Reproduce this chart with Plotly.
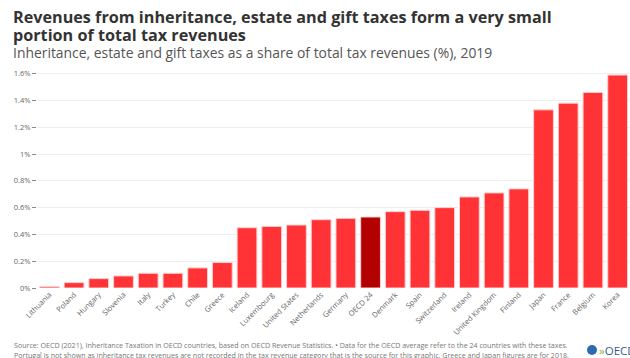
import plotly.graph_objects as go

countries = ["Lithuania", "Poland", "Hungary", "Slovenia", "Italy", "Turkey", "Chile", "Greece",
             "Iceland", "Luxembourg", "United States", "Netherlands", "Germany", "OECD 24",
             "Denmark", "Spain", "Switzerland", "Ireland", "United Kingdom", "Finland",
             "Japan", "France", "Belgium", "Korea"]
values = [0.01, 0.04, 0.07, 0.09, 0.11, 0.11, 0.15, 0.19,
          0.45, 0.46, 0.47, 0.51, 0.52, 0.53,
          0.57, 0.58, 0.60, 0.68, 0.71, 0.74,
          1.33, 1.38, 1.46, 1.59]
y_ticks = [0, 0.2, 0.4, 0.6, 0.8, 1.0, 1.2, 1.4, 1.6]
y_tick_labels = ["0%", "0.2%", "0.4%", "0.6%", "0.8%", "1%", "1.2%", "1.4%", "1.6%"]

colors = ["#b30000" if c == "OECD 24" else "#ff3236" for c in countries]

W, H = 630, 358
ML, MR, MT, MB = 37, 0, 71, 70
PW, PH = W - ML - MR, H - MT - MB


def px(x):
    return (x - ML) / PW


def py(y):
    return (H - MB - y) / PH


fig = go.Figure(go.Bar(
    x=countries, y=values,
    marker=dict(color=colors, line=dict(color="#ffd0d0", width=1)),
    width=0.8,
))

font_family = "'Open Sans', 'Noto Sans', sans-serif"

fig.update_layout(
    width=W, height=H,
    margin=dict(l=ML, r=MR, t=MT, b=MB, autoexpand=False),
    paper_bgcolor="white", plot_bgcolor="white",
    showlegend=False,
    font=dict(family=font_family, color="#666"),
)
fig.update_xaxes(
    tickangle=-45, tickfont=dict(size=7.5, color="#666"),
    showgrid=False, showline=False, ticks="", automargin=False,
)
fig.update_yaxes(
    range=[0, 1.62], tickvals=y_ticks, ticktext=y_tick_labels,
    tickfont=dict(size=7.5, color="#666"),
    showgrid=True, gridcolor="#eeeeee", gridwidth=1,
    zeroline=False, ticks="outside", ticklen=4, tickcolor="#888", automargin=False,
)

title_lines = ["Revenues from inheritance, estate and gift taxes form a very small",
               "portion of total tax revenues"]
for line, yc in zip(title_lines, [17.5, 35]):
    fig.add_annotation(
        text="<b>" + line + "</b>", xref="paper", yref="paper",
        x=px(11), y=py(yc), xanchor="left", yanchor="middle", showarrow=False,
        font=dict(size=16.2, color="#333333", family=font_family),
    )
fig.add_annotation(
    text="Inheritance, estate and gift taxes as a share of total tax revenues (%), 2019",
    xref="paper", yref="paper", x=px(11), y=py(52), xanchor="left", yanchor="middle",
    showarrow=False, font=dict(size=13.9, color="#555555", family=font_family),
)
footer_lines = [
    "Source: OECD (2021), Inheritance Taxation in OECD countries, based on OECD Revenue Statistics. • Data for the OECD average refer to the 24 countries with these taxes.",
    "Portugal is not shown as inheritance tax revenues are not recorded in the tax revenue category that is the source for this graphic. Greece and Japan figures are for 2018.",
]
for line, yc in zip(footer_lines, [345, 354.5]):
    fig.add_annotation(
        text=line, xref="paper", yref="paper", x=px(12), y=py(yc),
        xanchor="left", yanchor="middle", showarrow=False,
        font=dict(size=7.1, color="#777777", family=font_family),
    )
# OECD logo approximation
fig.add_shape(type="circle", xref="paper", yref="paper",
              x0=px(587), x1=px(597), y0=py(355), y1=py(345),
              fillcolor="#2b6cb0", line=dict(width=0))
fig.add_annotation(
    text="<span style='color:#7fb93c'>»</span>OECD",
    xref="paper", yref="paper", x=px(597), y=py(350),
    xanchor="left", yanchor="middle", showarrow=False,
    font=dict(size=11.5, color="#3a5a8c", family=font_family),
)

fig.write_html("out.html", config={"displayModeBar": False},
               post_script="document.body.style.margin='0px';document.body.style.padding='0px';")
